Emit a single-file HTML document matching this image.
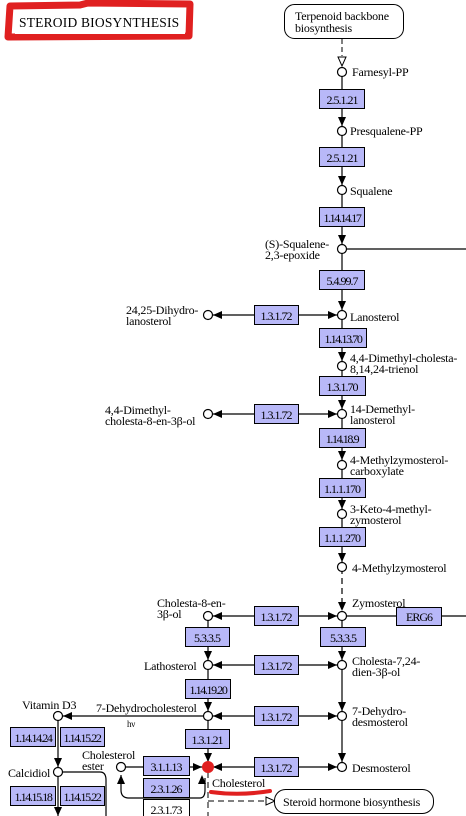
<!DOCTYPE html>
<html><head><meta charset="utf-8"><style>
html,body{margin:0;padding:0;background:#fff;}
svg{display:block;}
text{font-family:"Liberation Serif",serif;font-size:12px;fill:#000;letter-spacing:-0.2px;}
.e{font-size:12px;letter-spacing:-1px;text-anchor:middle;}
</style></head><body>
<svg width="466" height="816" viewBox="0 0 466 816" xmlns="http://www.w3.org/2000/svg">
<defs>
<g id="dn"><polygon points="-4,-9 4,-9 0,0" fill="#000"/></g>
<g id="lf"><polygon points="9,-4 9,4 0,0" fill="#000"/></g>
<g id="rt"><polygon points="-9,-4 -9,4 0,0" fill="#000"/></g>
<g id="up"><polygon points="-4,9 4,9 0,0" fill="#000"/></g>
</defs>
<path d="M10,6 L80,5 L88,3 L190,4 L189,36 L8,37 Z" fill="none" stroke="#e02020" stroke-width="7" stroke-linejoin="round"/>
<rect x="15" y="10" width="170" height="24" fill="#fff"/>
<text x="19" y="27" style="font-size:13.5px;letter-spacing:0.2px">STEROID  BIOSYNTHESIS</text>

<rect x="284.5" y="4.5" width="119" height="34" rx="10" fill="#fff" stroke="#000"/>
<text x="295" y="20">Terpenoid backbone</text>
<text x="295" y="32">biosynthesis</text>
<line x1="342" y1="39" x2="342" y2="56" stroke="#000" stroke-dasharray="5,3"/>
<polygon points="338,57 346,57 342,66" fill="#fff" stroke="#000"/>

<g stroke="#000" stroke-width="1.2" fill="none">
<line x1="342" y1="72" x2="342" y2="548"/>
<line x1="342" y1="548" x2="342" y2="608" stroke-dasharray="6,4"/>
<line x1="342" y1="616" x2="342" y2="767"/>
<line x1="342" y1="249" x2="466" y2="249"/>
<line x1="342" y1="616" x2="466" y2="616"/>
<line x1="208" y1="315" x2="338" y2="315"/>
<line x1="208" y1="414" x2="338" y2="414"/>
<line x1="208" y1="616" x2="338" y2="616"/>
<line x1="208" y1="665" x2="338" y2="665"/>
<line x1="58" y1="716" x2="338" y2="716"/>
<line x1="208" y1="767" x2="338" y2="767"/>
<line x1="208" y1="616" x2="208" y2="767"/>
<line x1="58" y1="716" x2="58" y2="816"/>
<line x1="121" y1="767" x2="204" y2="767"/>
<path d="M62,772 L100,772 Q106,772 106,780 L106,816"/>
<path d="M121,775 L121,790 Q121,798 129,798 L200,798 Q205,798 205,790 L205,778"/>
<line x1="208" y1="772" x2="208" y2="816" stroke-dasharray="6,4" stroke-width="1"/>
<line x1="208" y1="801" x2="266" y2="801" stroke-dasharray="6,4" stroke-width="1"/>
</g>
<polygon points="266,797 266,805 275,801" fill="#fff" stroke="#000"/>

<use href="#dn" x="342" y="126"/>
<use href="#dn" x="342" y="185"/>
<use href="#dn" x="342" y="244"/>
<use href="#dn" x="342" y="310"/>
<use href="#dn" x="342" y="361"/>
<use href="#dn" x="342" y="409"/>
<use href="#dn" x="342" y="460"/>
<use href="#dn" x="342" y="509"/>
<use href="#dn" x="342" y="562"/>
<use href="#dn" x="342" y="611"/>
<use href="#dn" x="342" y="660"/>
<use href="#dn" x="342" y="711"/>
<use href="#dn" x="342" y="762"/>
<use href="#dn" x="208" y="660"/>
<use href="#dn" x="208" y="711"/>
<use href="#dn" x="208" y="762"/>
<use href="#dn" x="58" y="767"/>
<use href="#dn" x="58" y="816"/>
<use href="#lf" x="213" y="315"/><use href="#rt" x="337" y="315"/>
<use href="#lf" x="213" y="414"/><use href="#rt" x="337" y="414"/>
<use href="#lf" x="213" y="616"/><use href="#rt" x="337" y="616"/>
<use href="#lf" x="213" y="665"/><use href="#rt" x="337" y="665"/>
<use href="#lf" x="213" y="716"/><use href="#rt" x="337" y="716"/>
<use href="#lf" x="213" y="767"/><use href="#rt" x="337" y="767"/>
<use href="#lf" x="63" y="716"/>
<use href="#rt" x="202" y="767"/>
<use href="#up" x="121" y="775"/>
<use href="#up" x="202" y="775"/>

<g fill="#fff" stroke="#000" stroke-width="1.2">
<circle cx="342" cy="72" r="4.5"/><circle cx="342" cy="131" r="4.5"/>
<circle cx="342" cy="190" r="4.5"/><circle cx="342" cy="249" r="4.5"/>
<circle cx="342" cy="315" r="4.5"/><circle cx="342" cy="366" r="4.5"/>
<circle cx="342" cy="414" r="4.5"/><circle cx="342" cy="465" r="4.5"/>
<circle cx="342" cy="514" r="4.5"/><circle cx="342" cy="567" r="4.5"/>
<circle cx="342" cy="616" r="4.5"/><circle cx="342" cy="665" r="4.5"/>
<circle cx="342" cy="716" r="4.5"/><circle cx="342" cy="767" r="4.5"/>
<circle cx="208" cy="315" r="4.5"/><circle cx="208" cy="414" r="4.5"/>
<circle cx="208" cy="616" r="4.5"/><circle cx="208" cy="665" r="4.5"/>
<circle cx="208" cy="716" r="4.5"/><circle cx="58" cy="716" r="4.5"/>
<circle cx="58" cy="772" r="4.5"/><circle cx="121" cy="767" r="4.5"/>
</g>
<circle cx="208" cy="767" r="6" fill="#e02020"/>

<g fill="#b8b8f8" stroke="#000" stroke-width="1">
<rect x="319.5" y="89.5" width="45" height="19"/>
<rect x="319.5" y="147.5" width="45" height="19"/>
<rect x="319.5" y="207.5" width="45" height="19"/>
<rect x="319.5" y="270.5" width="45" height="19"/>
<rect x="254.5" y="305.5" width="44" height="19"/>
<rect x="319.5" y="328.5" width="47" height="19"/>
<rect x="319.5" y="376.5" width="46" height="19"/>
<rect x="254.5" y="404.5" width="44" height="19"/>
<rect x="319.5" y="428.5" width="46" height="19"/>
<rect x="319.5" y="478.5" width="46" height="19"/>
<rect x="319.5" y="527.5" width="46" height="19"/>
<rect x="254.5" y="606.5" width="44" height="19"/>
<rect x="396.5" y="607.5" width="45" height="18"/>
<rect x="185.5" y="627.5" width="44" height="19"/>
<rect x="320.5" y="627.5" width="45" height="19"/>
<rect x="254.5" y="655.5" width="44" height="19"/>
<rect x="185.5" y="679.5" width="45" height="19"/>
<rect x="254.5" y="706.5" width="44" height="19"/>
<rect x="185.5" y="729.5" width="44" height="19"/>
<rect x="254.5" y="757.5" width="44" height="19"/>
<rect x="143.5" y="756.5" width="46" height="19"/>
<rect x="143.5" y="778.5" width="46" height="19"/>
<rect x="10.5" y="727.5" width="45" height="19"/>
<rect x="60.5" y="727.5" width="44" height="19"/>
<rect x="10.5" y="786.5" width="45" height="19"/>
<rect x="60.5" y="786.5" width="44" height="19"/>
</g>
<rect x="143.5" y="799.5" width="46" height="18" fill="#fff" stroke="#000"/>
<g>
<text class="e" x="342" y="104">2.5.1.21</text>
<text class="e" x="342" y="162">2.5.1.21</text>
<text class="e" x="342" y="222" style="letter-spacing:-1.4px">1.14.14.17</text>
<text class="e" x="342" y="285">5.4.99.7</text>
<text class="e" x="276" y="320">1.3.1.72</text>
<text class="e" x="343" y="343" style="letter-spacing:-1.4px">1.14.13.70</text>
<text class="e" x="342" y="391">1.3.1.70</text>
<text class="e" x="276" y="419">1.3.1.72</text>
<text class="e" x="342" y="443" style="letter-spacing:-1.4px">1.14.18.9</text>
<text class="e" x="342" y="493">1.1.1.170</text>
<text class="e" x="342" y="542">1.1.1.270</text>
<text class="e" x="276" y="621">1.3.1.72</text>
<text class="e" x="419" y="621">ERG6</text>
<text class="e" x="207" y="642">5.3.3.5</text>
<text class="e" x="343" y="642">5.3.3.5</text>
<text class="e" x="276" y="670">1.3.1.72</text>
<text class="e" x="208" y="694" style="letter-spacing:-1.4px">1.14.19.20</text>
<text class="e" x="276" y="721">1.3.1.72</text>
<text class="e" x="207" y="744">1.3.1.21</text>
<text class="e" x="276" y="772">1.3.1.72</text>
<text class="e" x="166" y="771">3.1.1.13</text>
<text class="e" x="166" y="793">2.3.1.26</text>
<text class="e" x="166" y="814">2.3.1.73</text>
<text class="e" x="33" y="742" style="letter-spacing:-1.4px">1.14.14.24</text>
<text class="e" x="82" y="742" style="letter-spacing:-1.4px">1.14.15.22</text>
<text class="e" x="33" y="801" style="letter-spacing:-1.4px">1.14.15.18</text>
<text class="e" x="82" y="801" style="letter-spacing:-1.4px">1.14.15.22</text>
</g>

<text x="352" y="76">Farnesyl-PP</text>
<text x="350" y="135">Presqualene-PP</text>
<text x="350" y="195">Squalene</text>
<text x="265" y="248">(S)-Squalene-</text>
<text x="265" y="259">2,3-epoxide</text>
<text x="350" y="321">Lanosterol</text>
<text x="126" y="314">24,25-Dihydro-</text>
<text x="126" y="325">lanosterol</text>
<text x="350" y="362">4,4-Dimethyl-cholesta-</text>
<text x="350" y="373">8,14,24-trienol</text>
<text x="350" y="413">14-Demethyl-</text>
<text x="350" y="424">lanosterol</text>
<text x="105" y="414">4,4-Dimethyl-</text>
<text x="105" y="425">cholesta-8-en-3β-ol</text>
<text x="350" y="464">4-Methylzymosterol-</text>
<text x="350" y="475">carboxylate</text>
<text x="350" y="513">3-Keto-4-methyl-</text>
<text x="350" y="524">zymosterol</text>
<text x="352" y="572">4-Methylzymosterol</text>
<text x="352" y="607">Zymosterol</text>
<text x="157" y="607">Cholesta-8-en-</text>
<text x="157" y="618">3β-ol</text>
<text x="144" y="670">Lathosterol</text>
<text x="352" y="665">Cholesta-7,24-</text>
<text x="352" y="676">dien-3β-ol</text>
<text x="96" y="712">7-Dehydrocholesterol</text>
<text x="127" y="727" style="font-size:9px">hν</text>
<text x="352" y="715">7-Dehydro-</text>
<text x="352" y="726">desmosterol</text>
<text x="22" y="709">Vitamin D3</text>
<text x="352" y="772">Desmosterol</text>
<text x="82" y="759">Cholesterol</text>
<text x="82" y="770">ester</text>
<text x="8" y="777">Calcidiol</text>
<text x="212" y="787">Cholesterol</text>
<path d="M211,792 Q240,796 270,791" stroke="#e02020" stroke-width="4" fill="none" stroke-linecap="round"/>
<rect x="274.5" y="789.5" width="159" height="24" rx="11" fill="#fff" stroke="#000"/>
<text x="283" y="806">Steroid hormone biosynthesis</text>
</svg>
</body></html>
